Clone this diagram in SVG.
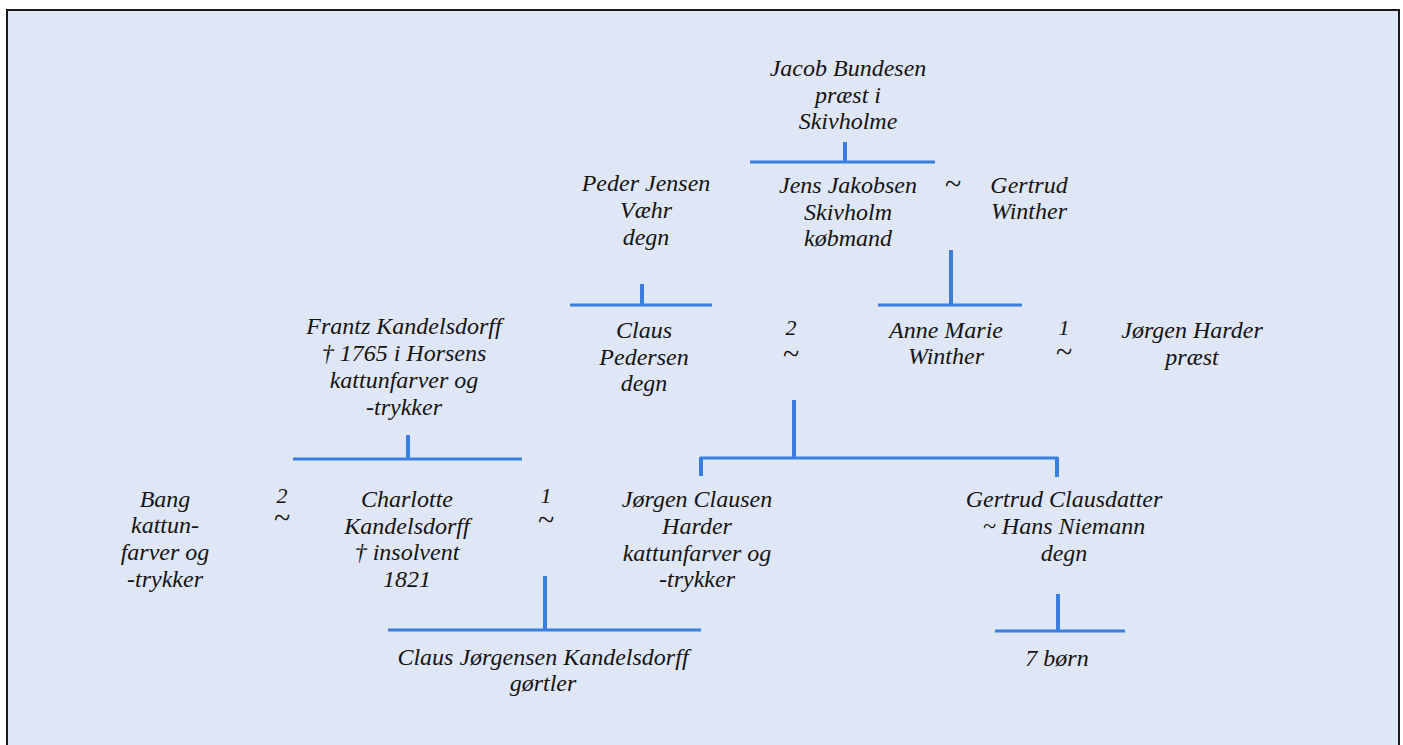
<svg xmlns="http://www.w3.org/2000/svg" width="1403" height="745" viewBox="0 0 1403 745">
<style>
.t{font-family:"Liberation Serif","DejaVu Serif",serif;font-style:italic;font-size:24px;fill:#141414;text-anchor:middle}
.n{font-family:"Liberation Serif","DejaVu Serif",serif;font-style:italic;font-size:22px;fill:#141414;text-anchor:middle}
.w{font-family:"Liberation Serif","DejaVu Serif",serif;font-size:30px;fill:#141414;text-anchor:middle}
.h{stroke:#3a7ee0;stroke-width:3;fill:none}
.v{stroke:#3a7ee0;stroke-width:4;fill:none}
</style>
<rect x="0" y="0" width="1403" height="745" fill="#ffffff"/>
<rect x="7" y="10" width="1392" height="745" fill="#dfe6f5" stroke="#1a1a1a" stroke-width="2"/>
<g id="connectors">
<path class="v" d="M845 142V162"/><path class="h" d="M750 162H935"/>
<path class="v" d="M951 250V305"/><path class="h" d="M878 305H1022"/>
<path class="v" d="M642 284V305"/><path class="h" d="M570 305H712"/>
<path class="v" d="M794 400V458"/><path class="h" d="M700 458H1058"/>
<path class="v" d="M701 457V476"/><path class="v" d="M1057 457V477"/>
<path class="v" d="M408 435V459"/><path class="h" d="M293 459H522"/>
<path class="v" d="M545 576V630"/><path class="h" d="M388 630H701"/>
<path class="v" d="M1058 594V630"/><path class="h" d="M995 631H1125"/>
</g>
<g id="jacob"><text class="t"><tspan x="848" y="76">Jacob Bundesen</tspan><tspan x="848" y="103">præst i</tspan><tspan x="848" y="129">Skivholme</tspan></text></g>
<g id="jens"><text class="t"><tspan x="848" y="193">Jens Jakobsen</tspan><tspan x="848" y="220">Skivholm</tspan><tspan x="848" y="246">købmand</tspan></text></g>
<g id="m1"><text class="w" x="953" y="194">~</text></g>
<g id="gertrud"><text class="t"><tspan x="1029" y="193">Gertrud</tspan><tspan x="1029" y="219">Winther</tspan></text></g>
<g id="peder"><text class="t"><tspan x="646" y="191">Peder Jensen</tspan><tspan x="646" y="218">Væhr</tspan><tspan x="646" y="245">degn</tspan></text></g>
<g id="claus"><text class="t"><tspan x="644" y="338">Claus</tspan><tspan x="644" y="365">Pedersen</tspan><tspan x="644" y="391">degn</tspan></text></g>
<g id="m2"><text class="n" x="791" y="335">2</text><text class="w" x="791" y="364">~</text></g>
<g id="anne"><text class="t"><tspan x="946" y="338">Anne Marie</tspan><tspan x="946" y="364">Winther</tspan></text></g>
<g id="m3"><text class="n" x="1064" y="335">1</text><text class="w" x="1064" y="362">~</text></g>
<g id="jorgenh"><text class="t"><tspan x="1192" y="338">Jørgen Harder</tspan><tspan x="1192" y="365">præst</tspan></text></g>
<g id="frantz"><text class="t"><tspan x="404" y="334">Frantz Kandelsdorff</tspan><tspan x="404" y="361">† 1765 i Horsens</tspan><tspan x="404" y="388">kattunfarver og</tspan><tspan x="404" y="415">-trykker</tspan></text></g>
<g id="bang"><text class="t"><tspan x="165" y="507">Bang</tspan><tspan x="165" y="533">kattun-</tspan><tspan x="165" y="560">farver og</tspan><tspan x="165" y="587">-trykker</tspan></text></g>
<g id="m4"><text class="n" x="282" y="503">2</text><text class="w" x="282" y="528">~</text></g>
<g id="charlotte"><text class="t"><tspan x="407" y="507">Charlotte</tspan><tspan x="407" y="534">Kandelsdorff</tspan><tspan x="407" y="560">† insolvent</tspan><tspan x="407" y="587">1821</tspan></text></g>
<g id="m5"><text class="n" x="546" y="503">1</text><text class="w" x="546" y="530">~</text></g>
<g id="jorgenc"><text class="t"><tspan x="697" y="507">Jørgen Clausen</tspan><tspan x="697" y="534">Harder</tspan><tspan x="697" y="561">kattunfarver og</tspan><tspan x="697" y="587">-trykker</tspan></text></g>
<g id="gertrudc"><text class="t"><tspan x="1064" y="507">Gertrud Clausdatter</tspan><tspan x="1064" y="534">~ Hans Niemann</tspan><tspan x="1064" y="561">degn</tspan></text></g>
<g id="clausj"><text class="t"><tspan x="543" y="665">Claus Jørgensen Kandelsdorff</tspan><tspan x="543" y="691">gørtler</tspan></text></g>
<g id="born"><text class="t" x="1057" y="666">7 børn</text></g>
</svg>
